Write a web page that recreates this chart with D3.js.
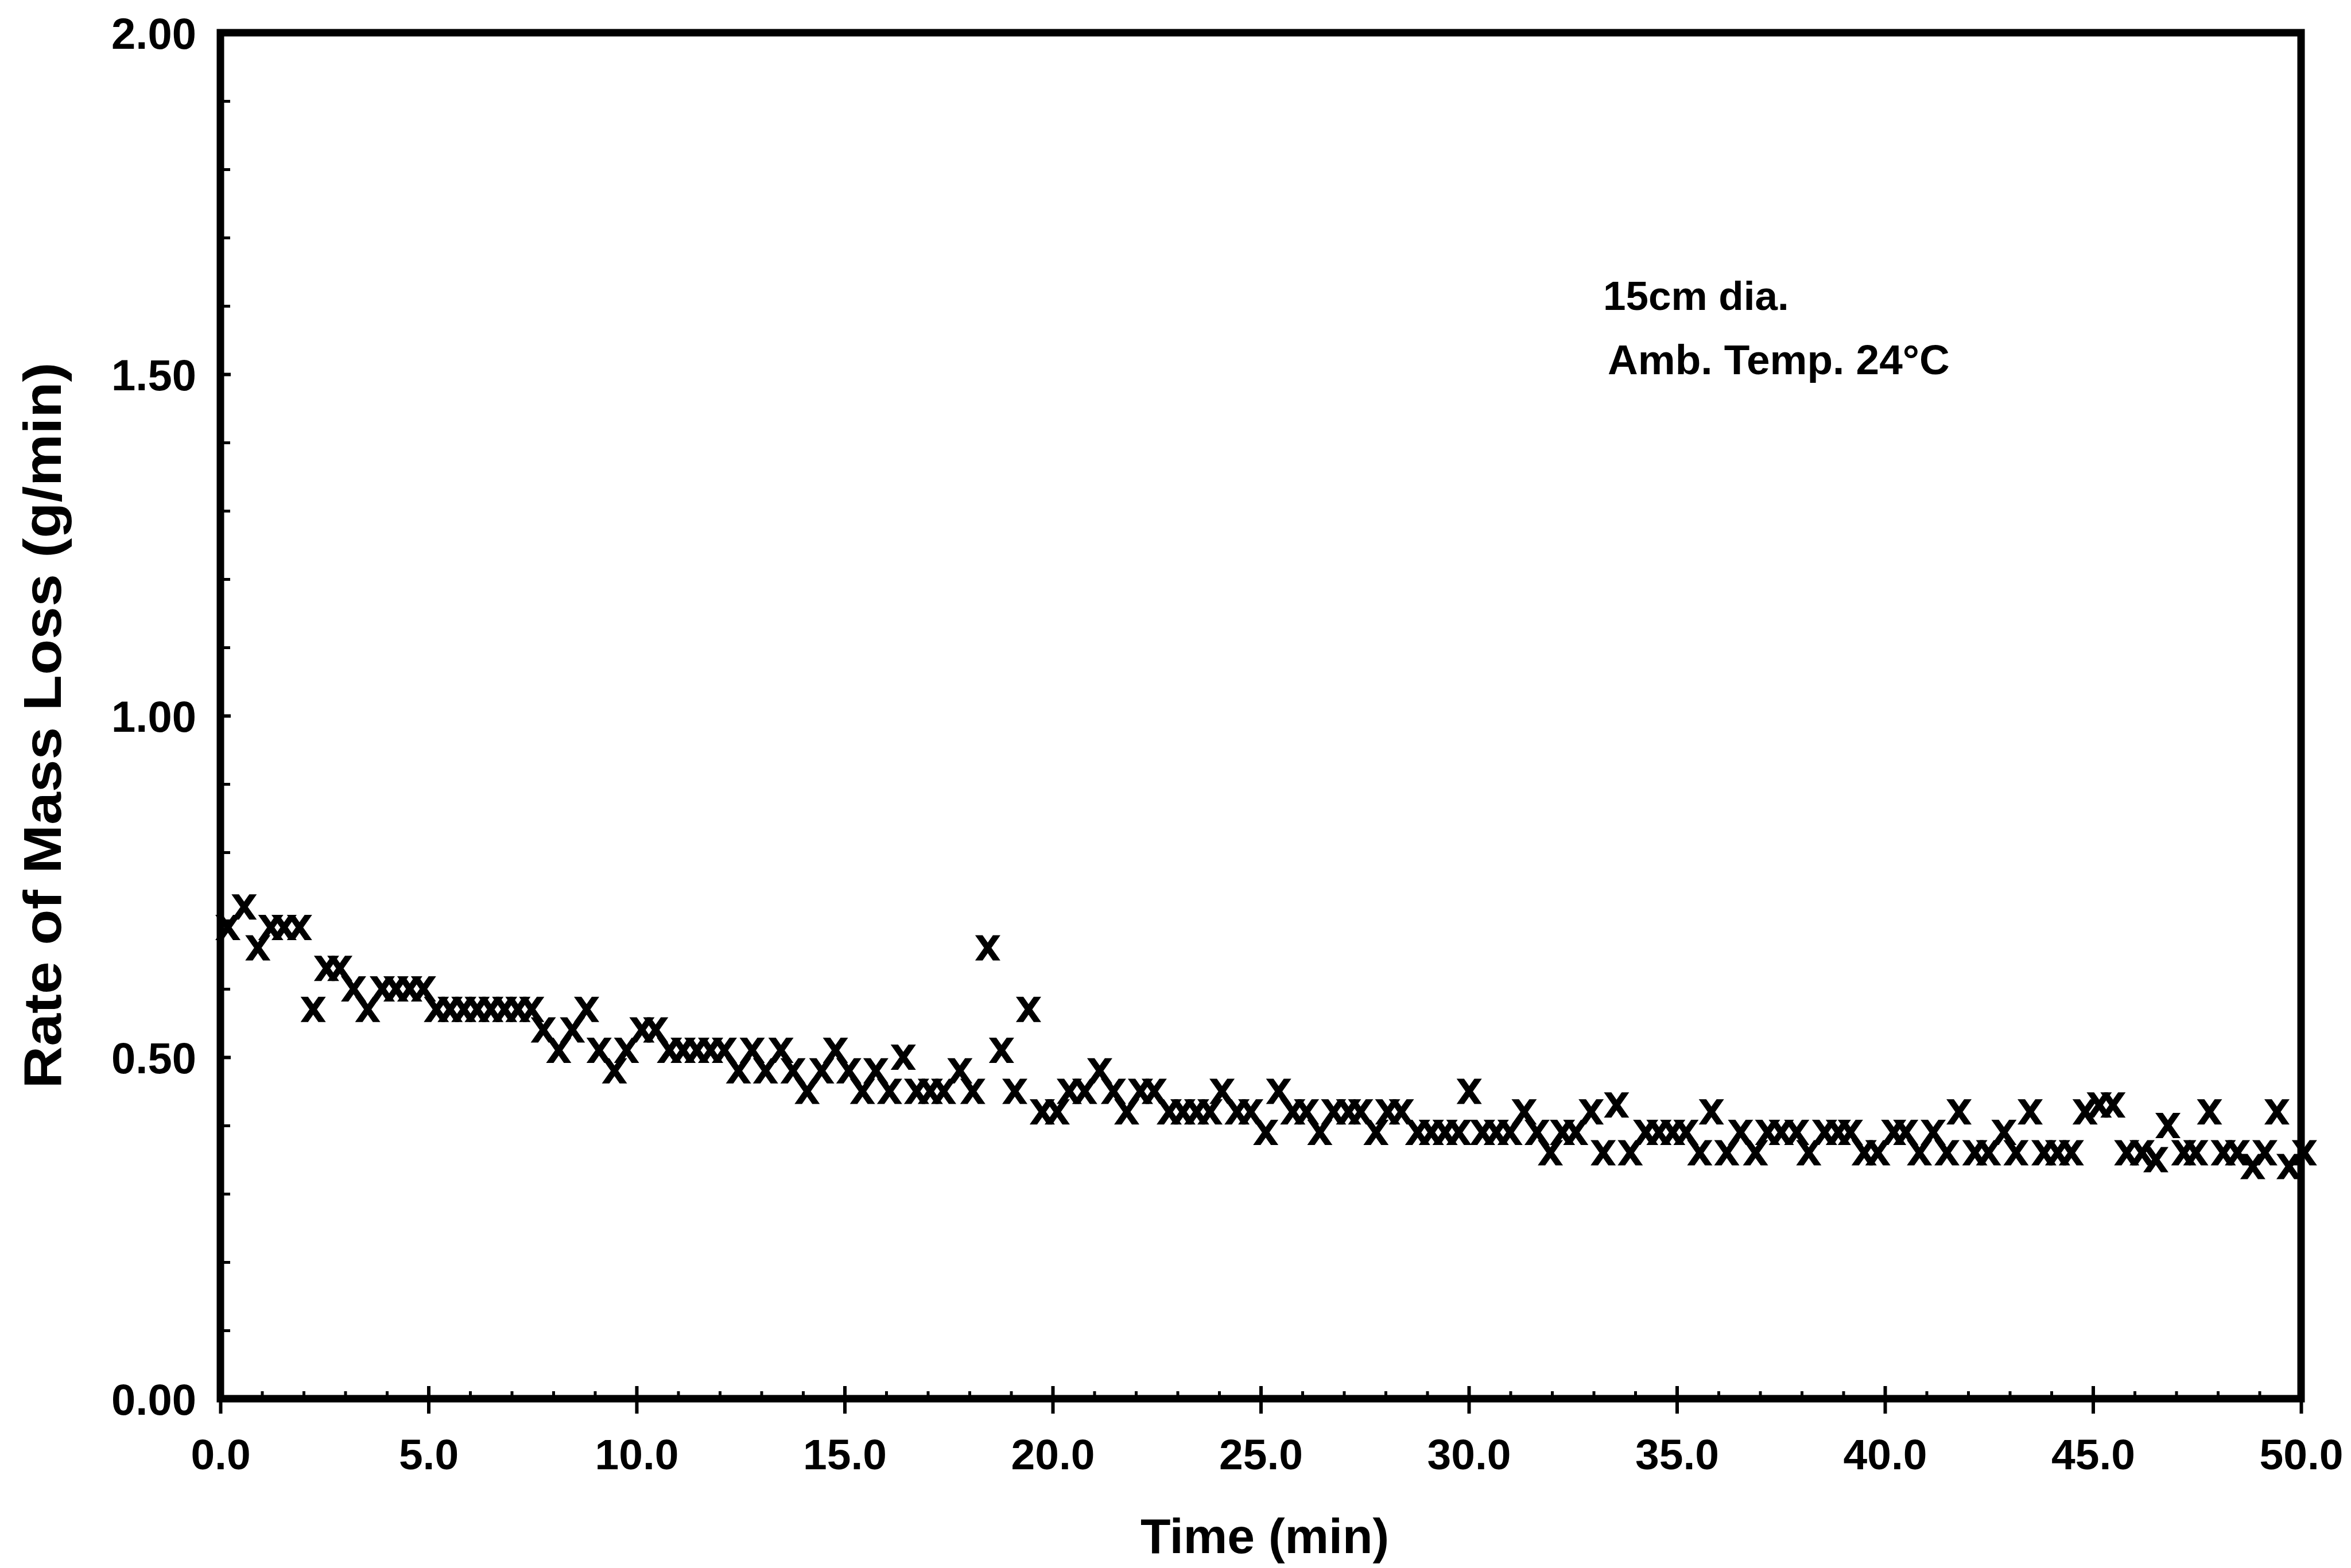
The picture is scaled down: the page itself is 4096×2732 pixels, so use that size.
<!DOCTYPE html>
<html>
<head>
<meta charset="utf-8">
<script src="https://cdn.jsdelivr.net/npm/d3@7"></script>
<style>
  html, body { margin: 0; padding: 0; background: #fff; }
  svg { display: block; }
  text { font-family: "Liberation Sans", Arial, Helvetica, sans-serif; font-weight: bold; fill: #000; }
</style>
</head>
<body>
<script>
// ---------------- data ----------------
const times = [
  0.18,0.57,0.90,1.21,1.53,1.90,2.23,2.55,2.87,3.20,3.54,3.89,4.22,4.55,4.88,5.19,5.52,5.85,6.17,6.50,
  6.83,7.15,7.48,7.76,8.13,8.46,8.80,9.10,9.47,9.76,10.13,10.46,10.79,11.12,11.45,11.78,12.11,12.45,
  12.78,13.10,13.47,13.76,14.10,14.45,14.78,15.10,15.43,15.75,16.08,16.41,16.73,17.06,17.38,17.77,18.08,
  18.44,18.77,19.09,19.42,19.75,20.11,20.40,20.77,21.13,21.46,21.78,22.11,22.44,22.80,23.13,23.46,23.78,
  24.07,24.43,24.76,
  25.12,25.43,25.77,26.10,26.42,26.75,27.11,27.40,27.77,28.05,28.38,28.77,29.10,29.43,29.76,30.01,30.33,
  30.66,30.99,31.33,31.64,31.96,32.25,32.57,32.94,33.23,33.55,33.88,34.25,34.57,34.90,35.22,35.55,35.83,
  36.20,36.53,36.89,37.18,
  37.51,37.88,38.17,38.55,38.88,39.17,39.50,39.83,40.21,40.50,40.83,41.16,41.49,41.78,42.16,42.49,42.86,
  43.15,43.49,43.82,44.15,44.48,44.81,45.15,45.48,45.81,46.18,46.51,46.80,47.18,47.47,47.80,48.13,48.47,
  48.84,49.13,49.42,49.71,50.08
];
const rates = [
  0.69,0.72,0.66,0.69,0.69,0.69,0.57,0.63,0.63,0.60,0.57,0.60,0.60,0.60,0.60,0.57,0.57,0.57,0.57,0.57,
  0.57,0.57,0.57,0.54,0.51,0.54,0.57,0.51,0.48,0.51,0.54,0.54,0.51,0.51,0.51,0.51,0.51,0.48,
  0.51,0.48,0.51,0.48,0.45,0.48,0.51,0.48,0.45,0.48,0.45,0.50,0.45,0.45,0.45,0.48,0.45,
  0.66,0.51,0.45,0.57,0.42,0.42,0.45,0.45,0.48,0.45,0.42,0.45,0.45,0.42,0.42,0.42,0.42,
  0.45,0.42,0.42,
  0.39,0.45,0.42,0.42,0.39,0.42,0.42,0.42,0.39,0.42,0.42,0.39,0.39,0.39,0.39,0.45,0.39,
  0.39,0.39,0.42,0.39,0.36,0.39,0.39,0.42,0.36,0.43,0.36,0.39,0.39,0.39,0.39,0.36,0.42,
  0.36,0.39,0.36,0.39,
  0.39,0.39,0.36,0.39,0.39,0.39,0.36,0.36,0.39,0.39,0.36,0.39,0.36,0.42,0.36,0.36,0.39,
  0.36,0.42,0.36,0.36,0.36,0.42,0.43,0.43,0.36,0.36,0.35,0.40,0.36,0.36,0.42,0.36,0.36,
  0.34,0.36,0.42,0.34,0.36
];
const xTickValues = [0,5,10,15,20,25,30,35,40,45,50];
const xTickLabels = ["0.0","5.0","10.0","15.0","20.0","25.0","30.0","35.0","40.0","45.0","50.0"];
const yTickValues = [0,0.5,1.0,1.5,2.0];
const yTickLabels = ["0.00","0.50","1.00","1.50","2.00"];
const xTitle = "Time (min)";
const yTitle = "Rate of Mass Loss (g/min)";
const notes = ["15cm dia.", "Amb. Temp. 24\u00B0C"];

// ---------------- layout ----------------
const W = 4096, H = 2732;
const L = 384, R = 4009, T = 57, B = 2437;

const svg = d3.select("body").append("svg").attr("width", W).attr("height", H);
svg.append("rect").attr("width", W).attr("height", H).attr("fill", "#fff");

const x = d3.scaleLinear().domain([0, 50]).range([L, R]);
const y = d3.scaleLinear().domain([0, 2]).range([B, T]);

// minor ticks (inward)
const gxMinor = svg.append("g").attr("transform", `translate(0,${B})`)
  .call(d3.axisBottom(x).tickValues(d3.range(0, 51, 1)).tickSize(-13).tickFormat(""));
const gyMinor = svg.append("g").attr("transform", `translate(${L},0)`)
  .call(d3.axisLeft(y).tickValues(d3.range(0, 2.001, 0.1)).tickSize(-17).tickFormat(""));
[gxMinor, gyMinor].forEach(g => {
  g.select(".domain").remove();
  g.selectAll(".tick line").attr("stroke", "#000").attr("stroke-width", 5);
});

// major ticks crossing the axis
const gx = svg.append("g").attr("transform", `translate(0,${B})`)
  .call(d3.axisBottom(x).tickValues(xTickValues).tickSize(26)
    .tickFormat((d, i) => xTickLabels[i]).tickPadding(60));
gx.selectAll(".tick line").attr("stroke", "#000").attr("stroke-width", 6).attr("y1", -22);
gx.select(".domain").remove();
gx.selectAll(".tick text").attr("font-size", 75).attr("dy", "0.35em").attr("y", 97);

const gy = svg.append("g").attr("transform", `translate(${L},0)`)
  .call(d3.axisLeft(y).tickValues(yTickValues).tickSize(10)
    .tickFormat((d, i) => yTickLabels[i]).tickPadding(32));
gy.selectAll(".tick line").attr("stroke", "#000").attr("stroke-width", 6).attr("x2", 18);
gy.select(".domain").remove();
gy.selectAll(".tick text").attr("font-size", 76).attr("dy", "0.36em");

// frame
svg.append("rect")
  .attr("x", L).attr("y", T).attr("width", R - L).attr("height", B - T)
  .attr("fill", "none").attr("stroke", "#000").attr("stroke-width", 13);

// markers: bold X
const a = 22, t = 13;
const xPath = `M${-a},${-a}L${-a+t},${-a}L${a},${a}L${a-t},${a}Z` +
              `M${a-t},${-a}L${a},${-a}L${-a+t},${a}L${-a},${a}Z`;
const pts = times.map((tm, i) => ({t: tm, v: rates[i]}));
svg.append("g").selectAll("path").data(pts).join("path")
  .attr("d", xPath)
  .attr("transform", d => `translate(${x(d.t)},${y(d.v)})`)
  .attr("fill", "#000");

// titles
svg.append("text").attr("x", (L + R) / 2 + 7).attr("y", 2706)
  .attr("text-anchor", "middle").attr("font-size", 86).text(xTitle);
svg.append("text").attr("transform", `translate(106,${1264}) rotate(-90)`)
  .attr("text-anchor", "middle").attr("font-size", 92)
  .attr("textLength", 1265).attr("lengthAdjust", "spacingAndGlyphs").text(yTitle);

// annotation
svg.append("text").attr("x", 2793).attr("y", 540).attr("font-size", 71).text(notes[0]);
svg.append("text").attr("x", 2801).attr("y", 652).attr("font-size", 73).text(notes[1]);
</script>
</body>
</html>
